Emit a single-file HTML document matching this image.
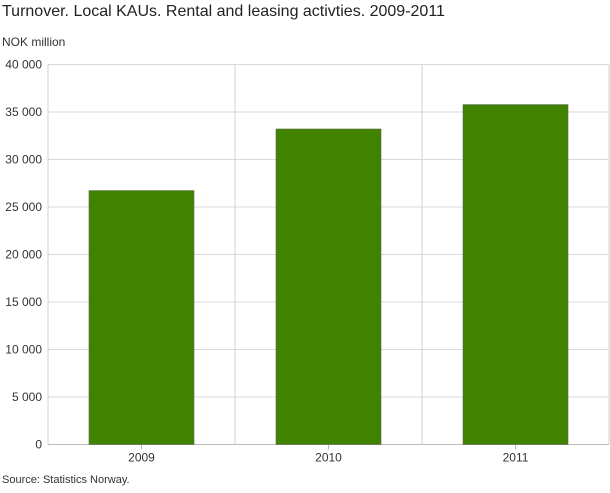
<!DOCTYPE html>
<html><head><meta charset="utf-8"><style>
body{margin:0;background:#fff;width:610px;height:488px;overflow:hidden;font-family:"Liberation Sans",sans-serif}
</style></head><body>
<svg id="chart" width="610" height="488" xmlns="http://www.w3.org/2000/svg">
<text x="2" y="16" font-size="16" fill="#222">Turnover. Local KAUs. Rental and leasing activties. 2009-2011</text>
<text x="2" y="46" font-size="12" fill="#333">NOK million</text>
<text x="2" y="483" font-size="11" fill="#333">Source: Statistics Norway.</text>
<g id="grid"></g><g id="bars"></g><g id="labels"></g>
</svg>
<script>
const categories = ["2009","2010","2011"];
const values = [26730, 33210, 35780];
const yTicks = [0,5000,10000,15000,20000,25000,30000,35000,40000];
const yTickLabels = ["0","5 000","10 000","15 000","20 000","25 000","30 000","35 000","40 000"];
const NS="http://www.w3.org/2000/svg";
const L=48,R=609,T=64.5,B=444.5,yMax=40000;
const y=v=>B-(v/yMax)*(B-T);
const cw=(R-L)/categories.length;
const x=i=>L+i*cw;
function mk(tag,attrs,parent){const e=document.createElementNS(NS,tag);for(const k in attrs)e.setAttribute(k,attrs[k]);parent.appendChild(e);return e;}
const grid=document.getElementById('grid'),bars=document.getElementById('bars'),labels=document.getElementById('labels');
yTicks.forEach((t,i)=>{
  const ln=mk('line',{x1:L,x2:R,y1:y(t),y2:y(t),stroke:i===0?'#bbb':'#d8d8d8','stroke-width':1},grid);
  
  
  const tx=mk('text',{x:L-6,y:y(t)+4,'text-anchor':'end','font-size':12,fill:'#333'},labels);
  tx.textContent=yTickLabels[i];
  
  
});
for(let i=0;i<=categories.length;i++){
  const ln=mk('line',{x1:x(i),x2:x(i),y1:T,y2:B,stroke:'#d0d0d0','stroke-width':1},grid);
  
  
}
const bw=105;
categories.forEach((c,i)=>{
  const cx=x(i)+cw/2;
  const r=mk('rect',{x:cx-bw/2,y:y(values[i]),width:bw,height:B-y(values[i]),fill:'#3f8300',stroke:'#5a6a50','stroke-width':0.6},bars);
  
  
  const tk=mk('line',{x1:cx,x2:cx,y1:B,y2:B+5,stroke:'#bbb'},grid);
  
  
  const tx=mk('text',{x:cx,y:B+17,'text-anchor':'middle','font-size':12,fill:'#333'},labels);
  tx.textContent=c;
  
  
});
</script>
</body></html>
